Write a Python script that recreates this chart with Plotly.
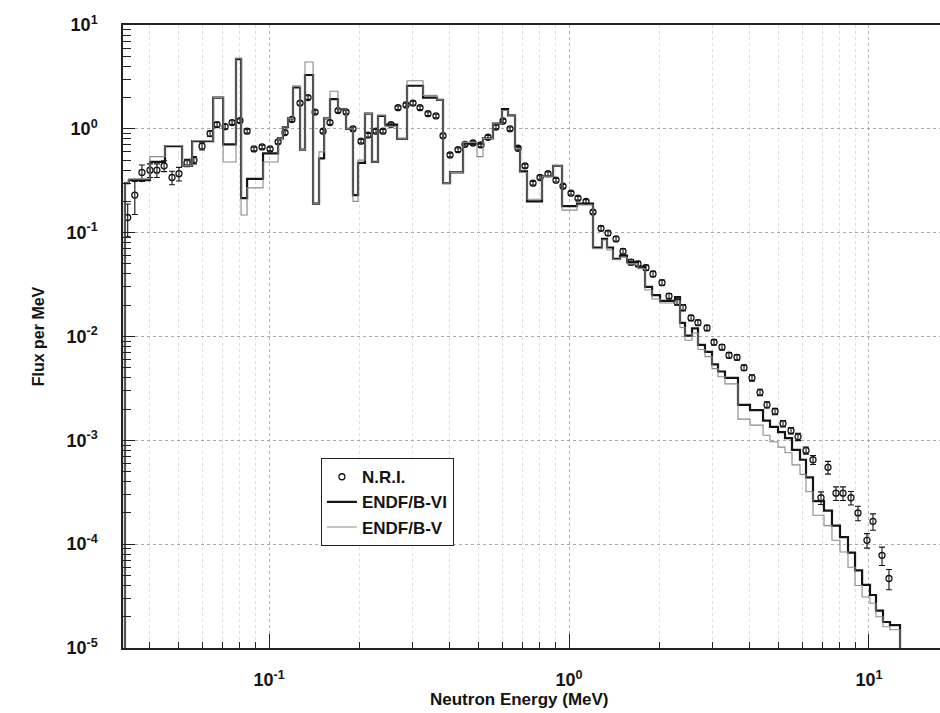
import plotly.graph_objects as go
import math

# ---------------- data ----------------
# group-structure bin edges (MeV) shared by the two calculated spectra
edges_mev = [0.0331, 0.0341, 0.0401, 0.0450, 0.0513, 0.0554, 0.0651, 0.0703, 0.0776, 0.0807,
             0.0845, 0.0955, 0.1072, 0.1113, 0.1157, 0.1202, 0.1269, 0.1318, 0.1402, 0.1468,
             0.1526, 0.1597, 0.1698, 0.1806, 0.1905, 0.1980, 0.2089, 0.2204, 0.2308, 0.2436,
             0.2672, 0.2884, 0.3261, 0.3631, 0.3802, 0.4012, 0.4433, 0.4935, 0.5168, 0.5580,
             0.5979, 0.6261, 0.6607, 0.6866, 0.7244, 0.8128, 0.8845, 0.9478, 1.0633, 1.2023,
             1.2882, 1.3386, 1.4017, 1.4791, 1.5610, 1.6982, 1.7923, 1.8914, 2.0106, 2.2560,
             2.3442, 2.4360, 2.5704, 2.6915, 2.8400, 2.9970, 3.1386, 3.3113, 3.6590, 4.0120,
             4.4340, 4.6774, 4.9750, 5.2481, 5.5383, 5.8884, 6.1660, 6.5063, 7.0795, 7.5270,
             8.0039, 8.5114, 8.9846, 9.4842, 10.077, 10.551, 11.135, 11.749, 12.690]

endf_b6 = [0.30, 0.32, 0.48, 0.68, 0.44, 0.76, 2.0, 0.71, 4.7, 0.215,
           0.33, 0.58, 0.81, 1.04, 1.26, 2.5, 0.63, 3.3, 0.19, 0.52,
           1.26, 1.93, 1.55, 1.0, 0.23, 0.47, 1.4, 0.48, 1.33, 1.1,
           0.80, 2.6, 2.0, 1.9, 0.30, 0.38, 0.72, 0.72, 0.81, 1.12,
           1.55, 1.35, 0.67, 0.39, 0.20, 0.35, 0.44, 0.18, 0.19, 0.072,
           0.087, 0.072, 0.056, 0.060, 0.052, 0.047, 0.030, 0.025, 0.022, 0.024,
           0.0135, 0.0102, 0.012, 0.0083, 0.0071, 0.0054, 0.0046, 0.0040, 0.0022, 0.00195,
           0.00155, 0.00135, 0.0012, 0.00105, 0.00081, 0.00065, 0.00044, 0.00026, 0.00021, 0.000151,
           0.000117, 0.000083, 0.000056, 0.0000405, 0.0000324, 0.0000229, 0.0000178, 0.0000166]

endf_b5 = [0.30, 0.33, 0.54, 0.69, 0.44, 0.77, 2.0, 0.48, 4.8, 0.148,
           0.27, 0.48, 0.80, 1.04, 1.26, 2.6, 0.63, 4.4, 0.19, 0.60,
           1.26, 2.3, 1.55, 1.0, 0.20, 0.50, 1.4, 0.48, 1.35, 1.05,
           0.80, 2.9, 2.1, 1.9, 0.30, 0.38, 0.74, 0.54, 0.81, 1.12,
           1.50, 1.35, 0.65, 0.38, 0.21, 0.35, 0.44, 0.165, 0.185, 0.070,
           0.085, 0.068, 0.055, 0.058, 0.050, 0.045, 0.028, 0.023, 0.021, 0.022,
           0.0122, 0.0092, 0.0108, 0.0075, 0.0064, 0.0049, 0.0041, 0.0035, 0.0016, 0.0014,
           0.00112, 0.00097, 0.00086, 0.00076, 0.00058, 0.00047, 0.00032, 0.00019, 0.000151, 0.000109,
           0.000084, 0.000060, 0.000040, 0.000031, 0.000027, 0.000020, 0.000016, 0.000015]

# N.R.I. measured spectrum
nri_energy = [0.0338, 0.0357, 0.0377, 0.0401, 0.0423, 0.0447, 0.0475, 0.0501, 0.0533, 0.0562,
              0.0598, 0.0636, 0.0671, 0.0714, 0.0753, 0.0800, 0.0845, 0.0891, 0.0948, 0.1008,
              0.1072, 0.1131, 0.1193, 0.1269, 0.1349, 0.1424, 0.1514, 0.1597, 0.1698, 0.1806,
              0.1905, 0.2026, 0.2138, 0.2273, 0.2399, 0.2551, 0.2692, 0.2862, 0.3020, 0.3187,
              0.3388, 0.3602, 0.3802, 0.4012, 0.4266, 0.4500, 0.4786, 0.5088, 0.5370, 0.5709,
              0.6026, 0.6359, 0.6761, 0.7135, 0.7586, 0.8003, 0.8511, 0.9050, 0.9550, 1.0155,
              1.0715, 1.1395, 1.2023, 1.2784, 1.3490, 1.4349, 1.5136, 1.6097, 1.6982, 1.8054,
              1.9055, 2.0417, 2.1544, 2.2909, 2.3988, 2.5516, 2.6915, 2.8840, 3.0430, 3.2359,
              3.4145, 3.6308, 3.8312, 4.0738, 4.3321, 4.5709, 4.8618, 5.1687, 5.4954, 5.7991,
              6.1660, 6.5063, 6.9183, 7.2995, 7.7625, 8.1914, 8.7096, 9.1896, 9.8466, 10.311,
              11.050, 11.659]

nri_flux = [0.14, 0.23, 0.38, 0.40, 0.40, 0.44, 0.34, 0.37, 0.47, 0.50,
            0.68, 0.90, 1.10, 1.05, 1.15, 1.20, 0.95, 0.64, 0.67, 0.64,
            0.75, 0.92, 1.23, 1.77, 2.0, 1.45, 0.95, 1.15, 1.5, 1.45,
            1.0, 0.76, 0.87, 0.95, 0.95, 1.1, 1.6, 1.7, 1.77, 1.6,
            1.4, 1.33, 0.86, 0.56, 0.63, 0.71, 0.73, 0.70, 0.83, 1.04,
            1.19, 1.0, 0.65, 0.44, 0.30, 0.34, 0.37, 0.32, 0.28, 0.24,
            0.215, 0.20, 0.158, 0.11, 0.099, 0.087, 0.066, 0.052, 0.050, 0.046,
            0.040, 0.033, 0.0245, 0.0215, 0.019, 0.0151, 0.0136, 0.0121, 0.0088, 0.0079,
            0.0066, 0.0063, 0.0050, 0.0040, 0.0029, 0.0022, 0.0019, 0.00145, 0.00124, 0.00108,
            0.00080, 0.00065, 0.00028, 0.00055, 0.00031, 0.00031, 0.00028, 0.00020, 0.000109, 0.000166,
            0.000078, 0.0000467]

nri_err_pct = [35, 35, 18, 15, 15, 12, 15, 15, 8, 8,
               8, 6, 5, 5, 4, 4, 4, 4, 4, 4,
               4, 4, 4, 4, 4, 4, 4, 4, 4, 4,
               4, 4, 4, 4, 4, 4, 4, 4, 4, 4,
               4, 4, 4, 4, 4, 4, 4, 4, 4, 4,
               4, 4, 4, 4, 4, 4, 4, 4, 4, 4,
               4, 4, 4, 5, 5, 5, 6, 6, 6, 6,
               6, 6, 6, 7, 7, 6, 6, 6, 6, 6,
               6, 6, 6, 7, 7, 7, 7, 7, 7, 8,
               8, 10, 14, 14, 15, 15, 15, 16, 16, 18,
               20, 22]

y_tick_vals = [1e1, 1e0, 1e-1, 1e-2, 1e-3, 1e-4, 1e-5]
y_tick_text = ["10<sup>1</sup>", "10<sup>0</sup>", "10<sup>-1</sup>", "10<sup>-2</sup>",
               "10<sup>-3</sup>", "10<sup>-4</sup>", "10<sup>-5</sup>"]
x_tick_vals = [0.1, 1.0, 10.0]
x_tick_text = ["10<sup>-1</sup>", "10<sup>0</sup>", "10<sup>1</sup>"]

# ---------------- figure ----------------
FONT = "Liberation Sans, Arial, Helvetica, sans-serif"
INK = "#141414"
BASE = 1e-7  # below the axis floor, so the histogram closes on the axis


def hist_xy(edges, vals):
    xs = [edges[0]] + list(edges)
    ys = [BASE] + list(vals) + [BASE]
    return xs, ys


fig = go.Figure()

x6, y6 = hist_xy(edges_mev, endf_b6)
x5, y5 = hist_xy(edges_mev, endf_b5)

fig.add_trace(go.Scatter(
    x=nri_energy, y=nri_flux, mode="markers", name="N.R.I.",
    marker=dict(symbol="circle-open", size=6, color=INK, line=dict(width=1.3, color=INK)),
    error_y=dict(type="data", array=[f * p / 100 for f, p in zip(nri_flux, nri_err_pct)],
                 color=INK, thickness=1.1, width=3),
))
fig.add_trace(go.Scatter(
    x=x6, y=y6, mode="lines", name="ENDF/B-VI", line_shape="hv",
    line=dict(color=INK, width=2.2),
))
fig.add_trace(go.Scatter(
    x=x5, y=y5, mode="lines", name="ENDF/B-V", line_shape="hv",
    line=dict(color="#8a8a8a", width=1.1),
))

minor_x = [m * 10 ** k for k in range(-2, 2) for m in range(2, 10)]
minor_y = [m * 10 ** k for k in range(-5, 1) for m in range(2, 10)]

fig.update_layout(
    width=940, height=713,
    margin=dict(l=123, r=0, t=25, b=65),
    paper_bgcolor="white", plot_bgcolor="white",
    font=dict(family=FONT, size=16, color=INK),
    showlegend=True,
    legend=dict(
        x=0.242, y=0.305, xanchor="left", yanchor="top",
        bgcolor="white", bordercolor="#222222", borderwidth=1.2,
        font=dict(family=FONT, size=17, color=INK, weight="bold"),
        itemwidth=30, tracegroupgap=0,
    ),
    xaxis=dict(
        type="log", range=[math.log10(0.0326), 1.2367],
        showline=True, linecolor="#222222", linewidth=1.5, mirror=True,
        ticks="inside", ticklen=14, tickwidth=1.2, tickcolor="#222222",
        tickmode="array", tickvals=x_tick_vals, ticktext=x_tick_text,
        ticklabelstandoff=15,
        tickfont=dict(family=FONT, size=18, color=INK, weight="bold"),
        showgrid=True, gridcolor="#b4b4b4", griddash="dot", gridwidth=1,
        minor=dict(tickmode="array", tickvals=minor_x, ticks="inside", ticklen=6,
                   tickcolor="#222222", showgrid=True, gridcolor="#dedede",
                   griddash="dot", gridwidth=1),
        zeroline=False,
    ),
    yaxis=dict(
        type="log", range=[-5, 1],
        showline=True, linecolor="#222222", linewidth=1.5, mirror=False,
        ticks="inside", ticklen=12, tickwidth=1.2, tickcolor="#222222",
        tickmode="array", tickvals=y_tick_vals, ticktext=y_tick_text,
        ticklabelstandoff=20,
        tickfont=dict(family=FONT, size=18, color=INK, weight="bold"),
        showgrid=True, gridcolor="#a8a8a8", griddash="dot", gridwidth=1,
        minor=dict(tickmode="array", tickvals=minor_y, ticks="inside", ticklen=8,
                   tickcolor="#222222", showgrid=False),
        title=dict(text="Flux per MeV", standoff=18,
                   font=dict(family=FONT, size=16, color=INK, weight="bold")),
        zeroline=False,
    ),
    annotations=[dict(
        text="Neutron Energy (MeV)", xref="paper", yref="paper",
        x=0.485, y=-0.083, xanchor="center", yanchor="middle", showarrow=False,
        font=dict(family=FONT, size=17, color=INK, weight="bold"),
    )],
)

fig.write_html("out.html")
